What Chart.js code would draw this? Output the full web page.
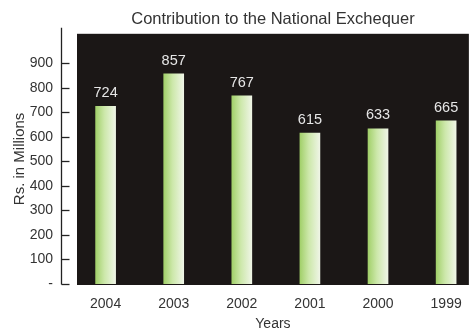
<!DOCTYPE html>
<html>
<head>
<meta charset="utf-8">
<script src="https://cdn.jsdelivr.net/npm/chart.js@4"></script>
<style>
  html, body { margin: 0; padding: 0; background: #ffffff; }
  #wrap { width: 474px; height: 329px; }
</style>
</head>
<body>
<div id="wrap"><canvas id="c" width="474" height="329"></canvas></div>
<script>
const categories = ['2004', '2003', '2002', '2001', '2000', '1999'];
const values = [724, 857, 767, 615, 633, 665];
const yTicks = [0, 100, 200, 300, 400, 500, 600, 700, 800, 900];
const chartTitle = 'Contribution to the National Exchequer';
const xTitle = 'Years';
const yTitle = 'Rs. in Millions';

const FONT = "'Liberation Sans', Arial, sans-serif";

const decor = {
  id: 'decor',
  beforeDraw(chart) {
    const { ctx, chartArea } = chart;
    ctx.save();
    ctx.fillStyle = '#1b1716';
    ctx.fillRect(chartArea.left, chartArea.top, chartArea.right - chartArea.left, chartArea.bottom - chartArea.top + 1);
    ctx.restore();
  },
  afterDraw(chart) {
    const { ctx, chartArea } = chart;
    const ys = chart.scales.y;
    const axX = 61.5;
    ctx.save();
    ctx.strokeStyle = '#222222';
    ctx.lineWidth = 1.3;
    ctx.beginPath();
    ctx.moveTo(axX, chartArea.top - 6);
    ctx.lineTo(axX, Math.round(ys.getPixelForValue(0)) + 0.5);
    ctx.stroke();
    ys.ticks.forEach(t => {
      const y = Math.round(ys.getPixelForValue(t.value)) + 0.5;
      ctx.beginPath();
      ctx.moveTo(axX, y);
      ctx.lineTo(axX + 8, y);
      ctx.stroke();
    });
    // value labels
    const meta = chart.getDatasetMeta(0);
    ctx.fillStyle = '#e6e6e6';
    ctx.font = '14.5px ' + FONT;
    ctx.textAlign = 'center';
    ctx.textBaseline = 'bottom';
    meta.data.forEach((bar, i) => {
      ctx.fillText(String(values[i]), bar.x, bar.y - 6);
    });
    ctx.restore();
  }
};

new Chart(document.getElementById('c'), {
  type: 'bar',
  data: {
    datasets: [{
      data: values.map((v, i) => ({ x: i, y: v })),
      barThickness: 20,
      borderWidth: 0,
      backgroundColor: (c) => {
        const chart = c.chart;
        const xs = chart.scales && chart.scales.x;
        if (!xs || c.dataIndex === undefined) return '#b8dc8a';
        const cx = xs.getPixelForValue(c.dataIndex);
        if (!isFinite(cx)) return '#b8dc8a';
        const g = chart.ctx.createLinearGradient(cx - 10, 0, cx + 10, 0);
        g.addColorStop(0, '#a2d06a');
        g.addColorStop(0.45, '#cde8ab');
        g.addColorStop(1, '#eff5e6');
        return g;
      }
    }]
  },
  options: {
    responsive: false,
    animation: false,
    layout: { padding: { left: 0, right: 0, top: 0, bottom: 0 } },
    plugins: {
      legend: { display: false },
      tooltip: { enabled: false },
      title: {
        display: true,
        text: chartTitle,
        fullSize: false,
        color: '#333333',
        font: { family: FONT, size: 16.5, weight: 'normal' },
        padding: { top: 10, bottom: 4 }
      }
    },
    scales: {
      x: {
        type: 'linear',
        offset: false,
        min: -0.42,
        max: 5.334,
        afterBuildTicks: (s) => { s.ticks = categories.map((_, i) => ({ value: i })); },
        afterFit: (s) => { s.height = 45; },
        grid: { display: false, drawTicks: false },
        border: { display: false },
        ticks: {
          color: '#333333',
          font: { family: FONT, size: 14 },
          padding: 12,
          maxRotation: 0,
          autoSkip: false,
          callback: (v) => categories[v]
        },
        title: {
          display: true,
          text: xTitle,
          color: '#333333',
          font: { family: FONT, size: 14, lineHeight: 0.75 },
          padding: { top: 0, bottom: 0 }
        }
      },
      y: {
        min: 0,
        max: 1020,
        afterBuildTicks: (s) => { s.ticks = yTicks.map(v => ({ value: v })); },
        afterFit: (s) => { s.width = 77; },
        grid: { display: false, drawTicks: false },
        border: { display: false },
        ticks: {
          color: '#333333',
          font: { family: FONT, size: 14 },
          padding: 24,
          callback: (v) => v === 0 ? '-' : String(v)
        },
        title: {
          display: true,
          text: yTitle,
          color: '#333333',
          font: { family: FONT, size: 15 },
          padding: { top: 11, bottom: 4 }
        }
      }
    }
  },
  plugins: [decor]
});
</script>
</body>
</html>
